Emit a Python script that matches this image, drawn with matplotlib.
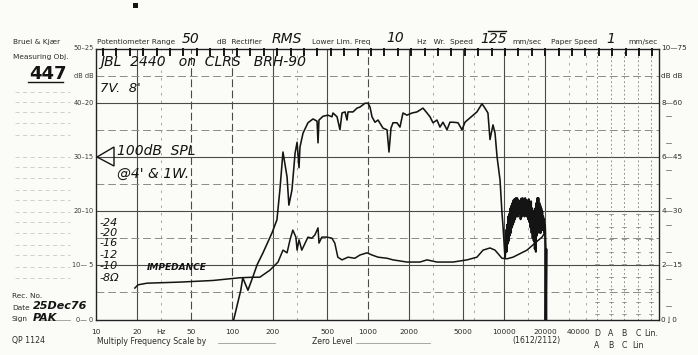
import numpy as np
import matplotlib
matplotlib.use("Agg")
import matplotlib.pyplot as plt
from matplotlib.patches import Polygon, Rectangle

# ---- recorded traces -------------------------------------------------------
# Sound pressure response, JBL 2440 on CLRS BRH-90 (Hz, dB on chart)
response_freq = [
    103, 116, 120, 131, 143, 153, 169, 197, 214, 225, 237, 254, 262, 276, 291,
    301, 311, 316, 333, 362, 394, 422, 429, 436, 467, 508, 543, 553, 592, 622,
    644, 678, 701, 713, 776, 830, 873, 951, 1000, 1035, 1070, 1125, 1185, 1290,
    1380, 1427, 1476, 1527, 1633, 1718, 1808, 1935, 2107, 2293, 2537, 2716,
    2857, 3006, 3215, 3382, 3558, 3808, 4005, 4214, 4590, 4910, 5165, 5623,
    6324, 6887, 7244, 7620, 7889, 8298, 8590, 8892, 9354, 9661, 9840, 10170,
]
response_db = [
    0.0, 5.4, 7.7, 5.4, 8.0, 10.1, 12.3, 16.0, 18.4, 23.9, 30.9, 26.3, 21.1,
    23.9, 30.7, 32.7, 28.0, 31.8, 34.4, 36.3, 37.0, 36.6, 32.6, 36.8, 37.5,
    37.7, 37.4, 38.1, 37.4, 35.0, 38.1, 38.3, 36.8, 38.3, 38.3, 39.0, 39.2,
    39.9, 39.9, 39.2, 37.4, 36.4, 36.8, 35.3, 35.0, 30.9, 35.3, 36.3, 36.3,
    35.5, 38.1, 37.7, 38.1, 38.3, 39.0, 38.1, 37.4, 36.3, 36.8, 35.5, 36.4,
    35.0, 36.4, 36.4, 36.3, 35.0, 36.4, 37.2, 38.3, 39.8, 39.0, 38.1, 33.2,
    35.9, 34.4, 30.0, 25.7, 19.7, 17.1, 11.5,
]
# Fast pen swings of the response above 10 kHz (Hz, dB on chart)
hf_freq = [
    10170, 10250, 10350, 10450, 10550, 10650, 10750, 10850, 10950, 11050,
    11150, 11250, 11350, 11450, 11550, 11650, 11750, 11850, 11950, 12050,
    12200, 12350, 12500, 12650, 12800, 12950, 13100, 13250, 13400, 13550,
    13700, 13850, 14000, 14150, 14300, 14450, 14600, 14750, 14900, 15050,
    15200, 15350, 15500, 15650, 15800, 15950, 16100, 16250, 16400, 16550,
    16700, 16850, 17000, 17150, 17300, 17450, 17600, 17750, 17900, 18050,
    18200, 18350, 18500, 18650, 18800, 18950, 19100, 19250, 19400, 19550,
    19700, 19850, 20000, 20100, 20200,
]
hf_db = [
    11.5, 13.0, 16.5, 12.5, 17.5, 14.0, 19.0, 14.5, 19.5, 15.5, 20.5, 16.0,
    21.0, 17.0, 21.5, 17.5, 22.0, 18.0, 22.2, 18.5, 22.4, 19.0, 22.4, 19.0,
    22.0, 19.5, 21.5, 18.5, 22.3, 19.0, 22.4, 19.5, 22.0, 19.0, 22.4, 19.5,
    22.0, 19.0, 21.8, 18.5, 22.2, 18.0, 21.5, 17.0, 21.8, 16.0, 20.5, 15.0,
    20.0, 14.5, 19.5, 13.0, 20.5, 12.5, 21.5, 15.5, 22.4, 16.0, 22.4, 17.0,
    21.5, 16.0, 21.0, 16.0, 20.5, 16.5, 20.0, 16.5, 19.0, 16.5, 18.5, 16.0,
    17.5, 16.0, 0.0,
]

# Impedance trace, plotted on the same chart divisions (Hz, dB on chart)
impedance_freq = [
    19.3, 20.4, 23.7, 41.4, 72.5, 114, 143, 160, 190, 218, 237, 254, 267, 280,
    295, 301, 311, 326, 345, 362, 386, 407, 429, 436, 458, 499, 543, 570, 600,
    644, 713, 800, 873, 982, 1070, 1185, 1380, 1527, 1935, 2410, 2716, 3215,
    4214, 5350, 6324, 7015, 7889, 8590, 9661, 10520, 11650, 14760, 16900,
    19030, 20020, 20300,
]
impedance_db = [
    5.8, 6.4, 6.7, 6.9, 7.2, 7.7, 7.8, 7.8, 9.1, 10.6, 12.8, 12.3, 14.7, 16.5,
    15.2, 12.8, 14.7, 12.8, 14.1, 15.2, 15.0, 15.6, 16.9, 14.1, 15.2, 15.2,
    15.0, 14.1, 11.5, 11.0, 11.5, 11.3, 11.9, 12.3, 11.9, 11.5, 11.3, 11.0,
    10.6, 10.6, 11.0, 10.6, 10.6, 11.0, 11.5, 12.8, 13.2, 12.8, 11.3, 11.2,
    11.5, 12.8, 14.1, 15.2, 16.1, 12.8,
]

# ---- chart paper scales ----------------------------------------------------
freq_ticks = [10, 20, 50, 100, 200, 500, 1000, 2000, 5000, 10000, 20000]
freq_tick_labels = ["10", "20", "50", "100", "200", "500", "1000", "2000",
                    "5000", "10000", "20000"]
solid_freq_lines = [20, 200, 500, 2000, 5000, 10000, 20000]
broken_freq_lines = [50, 100, 1000]
light_freq_lines = [30, 300, 3000, 6000, 15000, 30000, 40000]
db_major = [10, 20, 30, 40]
db_minor = [5, 15, 25, 35, 45]
left_scale_db = [50, 40, 30, 20, 10, 0]
left_scale_labels = ["50\u201325", "40\u201320", "30\u201315", "20\u201310",
                     "10\u2014 5", "0\u2014 0"]
right_scale_labels = ["10\u201475", "8\u201460", "6\u201445", "4\u201430",
                      "2\u201415", "0\u2009\u230b 0"]
weighting_names = ["D", "A", "B", "C", "Lin."]
weighting_names_2 = ["A", "B", "C", "Lin"]
impedance_scale = ["-24", "-20", "-16", "-12", "-10", "-8\u03a9"]

W, H = 698, 355
X0, X1 = 96, 659          # plotting frame, px
Y_TOP, Y_BOT = 48.5, 319.5
DECADE = 136.0            # px per decade

paper = "#fbfbf8"
ink = "#141414"
grid = "#4a4a4a"

fig = plt.figure(figsize=(W / 100, H / 100), dpi=100, facecolor=paper)
ax = fig.add_axes([X0 / W, 1 - Y_BOT / H, (X1 - X0) / W, (Y_BOT - Y_TOP) / H])
ax.set_facecolor(paper)
ax.set_xscale("log")
ax.set_xlim(10, 10 ** (1 + (X1 - X0) / DECADE))
ax.set_ylim(0, 50)
ax.set_xticks([])
ax.set_yticks([])
ax.minorticks_off()
for s in ax.spines.values():
    s.set_color("#222222")
    s.set_linewidth(1.0)

# grid of the recording paper
for f in solid_freq_lines:
    ax.axvline(f, color=grid, lw=0.8, zorder=1)
for f in broken_freq_lines:
    ax.axvline(f, color=grid, lw=0.8, ls=(0, (7, 3)), zorder=1)
for f in light_freq_lines:
    ax.axvline(f, color="#9a9a9a", lw=0.6, ls=(0, (3, 6)), zorder=1)
for d in db_major:
    ax.axhline(d, color=grid, lw=0.8, zorder=1)
for d in db_minor:
    ax.axhline(d, color="#8a8a8a", lw=0.7, ls=(0, (8, 4)), zorder=1)

# weighting-network columns at the right end of the paper
col_x = [(597 - X0) / (X1 - X0), (611 - X0) / (X1 - X0), (624 - X0) / (X1 - X0),
         (638 - X0) / (X1 - X0), (651 - X0) / (X1 - X0)]
for cx in col_x:
    ax.plot([cx, cx], [0, 1], transform=ax.transAxes, color="#7a7a7a",
            lw=0.6, ls=(0, (2, 3)), zorder=1)
    for yy in np.arange(0.02, 0.42, 0.046):
        ax.plot([cx - 0.004, cx + 0.004], [yy, yy], transform=ax.transAxes,
                color="#777777", lw=0.5, zorder=1)

# sprocket / time marks along the top edge
for mx in np.arange(103, 656, 13.4):
    fx = (mx - X0) / (X1 - X0)
    ax.plot([fx, fx], [1.0, 0.975], transform=ax.transAxes, color=ink,
            lw=1.4, zorder=3, clip_on=False)

# traces
ax.plot(response_freq, response_db, color=ink, lw=1.15, zorder=4,
        solid_joinstyle="round")
ax.plot(hf_freq, hf_db, color=ink, lw=1.5, zorder=4, solid_joinstyle="round")
ax.plot(impedance_freq, impedance_db, color=ink, lw=1.1, zorder=4,
        solid_joinstyle="round")
ax.plot([20200, 20400, 20400], [0, 13.0, 0], color=ink, lw=1.8, zorder=4)


def put(x, y, s, **kw):
    kw.setdefault("fontsize", 5.3)
    kw.setdefault("color", "#2a2a2a")
    kw.setdefault("va", "center")
    fig.text(x / W, 1 - y / H, s, **kw)


def hand(x, y, s, size=10, **kw):
    kw.setdefault("va", "center")
    fig.text(x / W, 1 - y / H, s, fontsize=size, color=ink,
             family="DejaVu Sans", style="italic", **kw)


# frequency labels under the frame
for f, lab in zip(freq_ticks, freq_tick_labels):
    ax.text(f, -0.035, lab, transform=ax.get_xaxis_transform(), ha="center",
            va="top", fontsize=5.3, color="#2a2a2a")
ax.text(30, -0.035, "Hz", transform=ax.get_xaxis_transform(), ha="center",
        va="top", fontsize=5.3, color="#2a2a2a")
ax.text(col_x[0] - 0.012, -0.035, "40000", transform=ax.transAxes, ha="right",
        va="top", fontsize=5.3, color="#2a2a2a")
for cx, name in zip(col_x, weighting_names):
    ax.text(cx, -0.035, name, transform=ax.transAxes, ha="center", va="top",
            fontsize=5.6, color="#2a2a2a")
for cx, name in zip(col_x[:4], weighting_names_2):
    ax.text(cx, -0.08, name, transform=ax.transAxes, ha="center", va="top",
            fontsize=5.6, color="#2a2a2a")

# dB scales at both sides
for d, lab in zip(left_scale_db, left_scale_labels):
    ax.text(-0.004, d, lab, transform=ax.get_yaxis_transform(), ha="right",
            va="center", fontsize=4.8, color="#3a3a3a")
    ax.text(1.004, d, right_scale_labels[left_scale_db.index(d)],
            transform=ax.get_yaxis_transform(), ha="left", va="center",
            fontsize=5.2, color="#2a2a2a")
ax.text(-0.004, 45, "dB dB", transform=ax.get_yaxis_transform(), ha="right",
        va="center", fontsize=4.8, color="#3a3a3a")
ax.text(1.004, 45, "dB dB", transform=ax.get_yaxis_transform(), ha="left",
        va="center", fontsize=5.2, color="#2a2a2a")
for d in [2.5, 7.5, 12.5, 17.5, 22.5, 27.5, 32.5, 37.5]:
    ax.plot([1.012, 1.022], [d, d], transform=ax.get_yaxis_transform(),
            color="#777777", lw=0.6, clip_on=False)

# printed header
put(13, 42, "Bruel & Kjær")
put(97, 42, "Potentiometer Range")
put(217, 42, "dB  Rectifier")
put(312, 42, "Lower Lim. Freq")
put(417, 42, "Hz   Wr.  Speed")
put(512, 42, "mm/sec")
put(551, 42, "Paper Speed")
put(628, 42, "mm/sec")
put(13, 57, "Measuring Obj.")
put(12, 296, "Rec. No.")
put(12, 308, "Date")
put(12, 319, "Sign")
put(12, 341, "QP 1124", fontsize=5.6)
put(97, 341, "Multiply Frequency Scale by", fontsize=5.6)
put(312, 341, "Zero Level", fontsize=5.6)
put(512, 341, "(1612/2112)", fontsize=5.6)
for (xa, xb, yy) in [(218, 275, 343), (356, 430, 343), (40, 70, 320)]:
    fig.add_artist(plt.Line2D([xa / W, xb / W], [1 - yy / H, 1 - yy / H],
                              color="#9a9a9a", lw=0.6))
for yy in [92, 102, 112, 123, 135, 157, 167, 178, 190, 200, 212, 222, 233,
           245, 255, 267, 278]:
    fig.add_artist(plt.Line2D([15 / W, 70 / W], [1 - yy / H, 1 - yy / H],
                              color="#c8c8c8", lw=0.6, ls=(0, (5, 4))))

# handwritten entries
hand(182, 39, "50", size=10)
hand(272, 39, "RMS", size=10)
hand(386, 38, "10", size=10)
hand(480, 39, "125", size=10)
fig.add_artist(plt.Line2D([488 / W, 506 / W], [1 - 31 / H, 1 - 31 / H],
                          color=ink, lw=1.0))
hand(606, 39, "1", size=10)
fig.text(29 / W, 1 - 74 / H, "447", fontsize=13, fontweight="bold",
         color=ink, va="center")
fig.add_artist(plt.Line2D([28 / W, 63 / W], [1 - 82 / H, 1 - 82 / H],
                          color=ink, lw=1.0))
hand(100, 62, "JBL  2440   on  CLRS   BRH-90", size=10)
hand(100, 88, "7V.  8'", size=9.5)
hand(117, 151, "100dB  SPL", size=10)
hand(117, 174, "@4' & 1W.", size=10)
fig.add_artist(Polygon([(97 / W, 1 - 157 / H), (114 / W, 1 - 147 / H),
                        (114 / W, 1 - 166 / H)], closed=True, fill=False,
                       edgecolor=ink, lw=1.0))
for lab, yy in zip(impedance_scale, [223, 233, 243, 255, 266, 278]):
    hand(99, yy, lab, size=8)
hand(147, 268, "IMPEDANCE", size=6.5, fontweight="bold")
hand(33, 306, "25Dec76", size=8, fontweight="bold")
hand(33, 318, "PAK", size=8, fontweight="bold")

# small registration mark above the form
fig.add_artist(Rectangle((133 / W, 1 - 8 / H), 5 / W, 5 / H,
                         color=ink, lw=0))

fig.savefig("out.png", dpi=100, facecolor=paper)
